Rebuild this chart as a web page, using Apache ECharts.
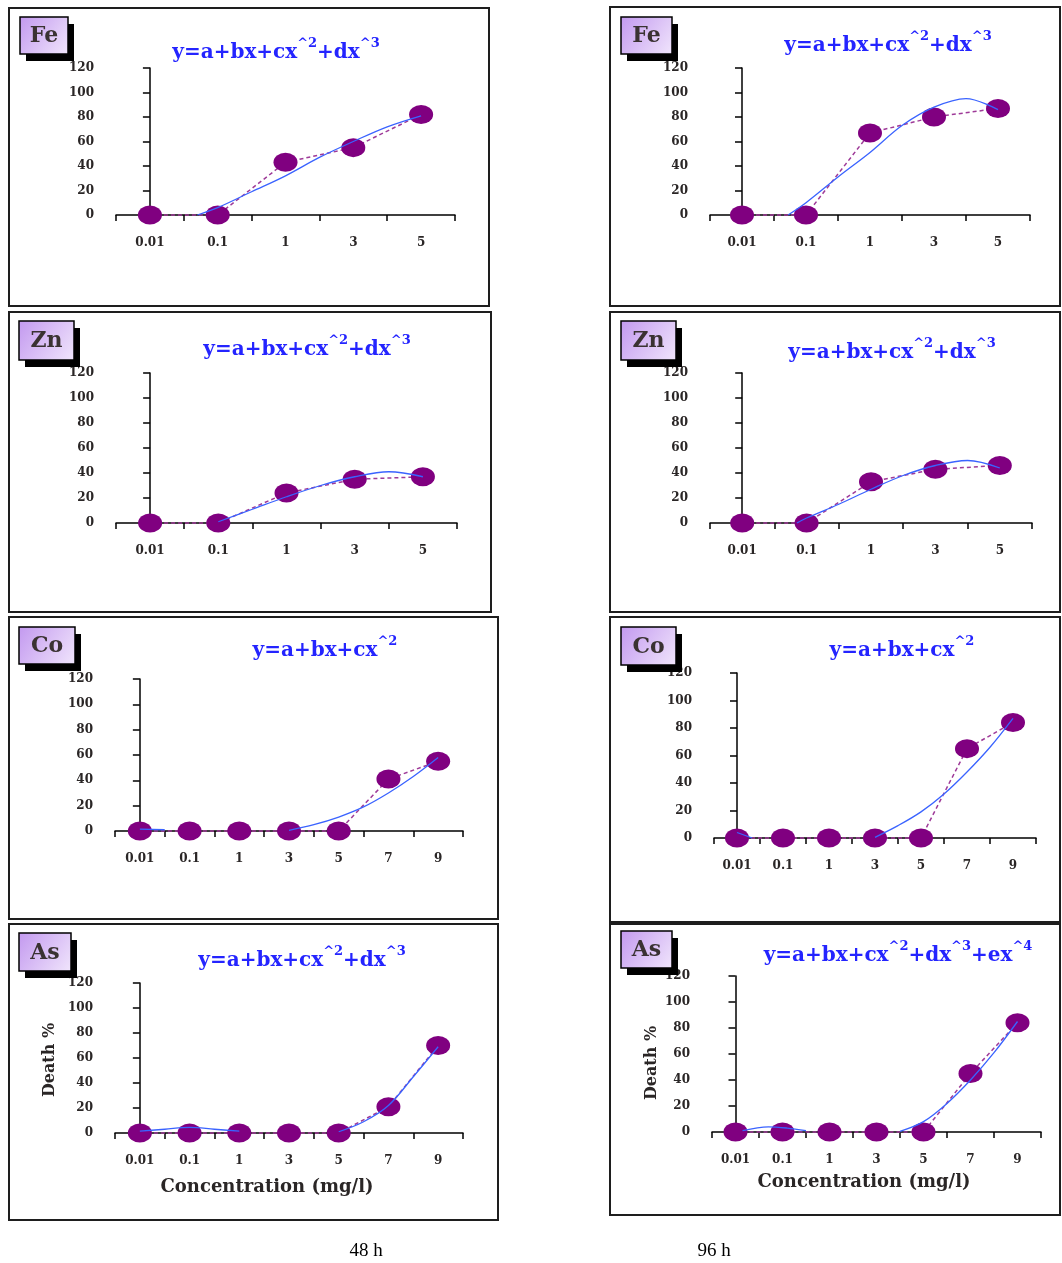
<!DOCTYPE html>
<html><head><meta charset="utf-8">
<script src="https://cdn.jsdelivr.net/npm/echarts@6/dist/echarts.min.js"></script>
<style>html,body{margin:0;padding:0;background:#fff}#c{width:1062px;height:1263px}</style>
</head><body><div id="c"></div>
<script>
// ---- categories / tick labels ----
const cats5 = ['0.01', '0.1', '1', '3', '5'];
const cats7 = ['0.01', '0.1', '1', '3', '5', '7', '9'];
const yMin = 0, yMax = 120, yStep = 20;

// ---- observed death % ----
const fe48 = [0, 0, 43, 55, 82];
const fe96 = [0, 0, 67, 80, 87];
const zn48 = [0, 0, 24, 35, 37];
const zn96 = [0, 0, 33, 43, 46];
const co48 = [0, 0, 0, 0, 0, 41, 55];
const co96 = [0, 0, 0, 0, 0, 65, 84];
const as48 = [0, 0, 0, 0, 0, 21, 70];
const as96 = [0, 0, 0, 0, 0, 45, 84];

// ---- fitted trend curves: [category position, value] ----
const fe48Fit = [[0.7, 0], [1, 6], [1.5, 19], [2, 32], [2.5, 47], [3, 60], [3.5, 72], [4, 81]];
const fe96Fit = [[0.72, 0], [1, 10], [1.5, 31], [2, 51], [2.5, 73], [3, 88], [3.5, 95], [4, 86]];
const zn48Fit = [[1, 1], [1.5, 11], [2, 21], [2.5, 30], [3, 37], [3.5, 41], [4, 37]];
const zn96Fit = [[0.85, 0], [1, 4], [1.5, 15], [2, 27], [2.5, 38], [3, 46], [3.5, 50], [4, 44]];
const co48FitA = [[0, 1.5], [0.5, 1]];
const co48FitB = [[3, 0.5], [3.5, 5], [4, 11], [4.5, 19], [5, 30], [5.5, 43], [6, 58]];
const co96FitA = [[0, 4], [0.33, 0]];
const co96FitB = [[3, 0.5], [3.5, 9], [4, 19], [4.5, 32], [5, 48], [5.5, 66], [6, 87]];
const as48FitA = [[0, 1.5], [0.5, 3], [1, 4.5], [1.5, 3], [2, 1.5]];
const as48FitB = [[4, 1], [4.5, 9], [5, 22], [5.5, 45], [6, 69]];
const as96FitA = [[0.15, 1], [0.7, 4], [1.1, 3], [1.5, 1]];
const as96FitB = [[3.5, 0.5], [4, 8], [4.5, 22], [5, 40], [5.5, 61], [6, 85]];

// ---- texts ----
const metals = ['Fe', 'Fe', 'Zn', 'Zn', 'Co', 'Co', 'As', 'As'];
const eq3 = 'y=a+bx+cx^2+dx^3';
const eq2 = 'y=a+bx+cx^2';
const eq4 = 'y=a+bx+cx^2+dx^3+ex^4';
const yName = 'Death %';
const xName = 'Concentration (mg/l)';
const captions = ['48 h', '96 h'];

// ---- layout (positions & sizes only) ----
const panels = [
  {cats: cats5, data: fe48, fits: [fe48Fit], eq: eq3, grid: [116, 68, 339, 147], frame: [9, 8, 480, 298], box: [20, 17, 48, 37], eqPos: [276, 50]},
  {cats: cats5, data: fe96, fits: [fe96Fit], eq: eq3, grid: [710, 68, 320, 147], frame: [610, 7, 450, 299], box: [621, 17, 51, 37], eqPos: [888, 43]},
  {cats: cats5, data: zn48, fits: [zn48Fit], eq: eq3, grid: [116, 373, 341, 150], frame: [9, 312, 482, 300], box: [19, 321, 55, 39], eqPos: [307, 347]},
  {cats: cats5, data: zn96, fits: [zn96Fit], eq: eq3, grid: [710, 373, 322, 150], frame: [610, 312, 450, 300], box: [621, 321, 55, 39], eqPos: [892, 350]},
  {cats: cats7, data: co48, fits: [co48FitA, co48FitB], eq: eq2, grid: [115, 679, 348, 152], frame: [9, 617, 489, 302], box: [19, 627, 56, 37], eqPos: [325, 648]},
  {cats: cats7, data: co96, fits: [co96FitA, co96FitB], eq: eq2, grid: [714, 673, 322, 165], frame: [610, 617, 450, 305], box: [621, 627, 55, 38], eqPos: [902, 648]},
  {cats: cats7, data: as48, fits: [as48FitA, as48FitB], eq: eq3, grid: [115, 983, 348, 150], frame: [9, 924, 489, 296], box: [19, 933, 52, 38], eqPos: [302, 958]},
  {cats: cats7, data: as96, fits: [as96FitA, as96FitB], eq: eq4, grid: [712, 976, 329, 156], frame: [610, 924, 450, 291], box: [621, 931, 51, 37], eqPos: [898, 953]}
];
const yNamePos = [[50, 1060], [652, 1063]];
const xNamePos = [[267, 1187], [864, 1182]];
const captionPos = [[366, 1251], [714, 1251]];

const labelFont = {color: '#2a2626', fontFamily: 'DejaVu Serif', fontWeight: 'bold', fontSize: 12};
const axisLineStyle = {color: '#000', width: 1.5};

function richEq(s) {
  const parts = s.split(/(\^\d)/).filter(t => t.length);
  return parts.map(t => /^\^\d$/.test(t) ? '{s|' + t + '}' : '{m|' + t + '}').join('');
}

const grid = [], xAxis = [], yAxis = [], series = [], graphic = [];
panels.forEach((p, i) => {
  grid.push({left: p.grid[0], top: p.grid[1], width: p.grid[2], height: p.grid[3], containLabel: false});
  xAxis.push({
    type: 'category', gridIndex: i, data: p.cats, boundaryGap: true,
    axisLine: {lineStyle: axisLineStyle},
    axisTick: {show: true, interval: 0, alignWithLabel: false, length: 6, lineStyle: axisLineStyle},
    axisLabel: Object.assign({interval: 0, margin: 22}, labelFont),
    splitLine: {show: false}
  });
  xAxis.push({type: 'value', gridIndex: i, min: -0.5, max: p.cats.length - 0.5, show: false});
  yAxis.push({
    type: 'value', gridIndex: i, min: yMin, max: yMax, interval: yStep,
    axisLine: {show: true, lineStyle: axisLineStyle},
    axisTick: {show: true, length: 7, lineStyle: axisLineStyle},
    axisLabel: Object.assign({margin: 22}, labelFont),
    splitLine: {show: false}
  });
  series.push({
    type: 'line', xAxisIndex: 2 * i, yAxisIndex: i, data: p.data,
    symbol: 'circle', symbolSize: [24, 19], showAllSymbol: true,
    itemStyle: {color: '#800080'},
    lineStyle: {color: '#9e3a98', width: 1.5, type: [4, 3]},
    clip: false, z: 3, silent: true
  });
  p.fits.forEach(seg => {
    series.push({
      type: 'line', xAxisIndex: 2 * i + 1, yAxisIndex: i, data: seg,
      smooth: 0.35, symbol: 'none', showSymbol: false,
      lineStyle: {color: '#3a63ff', width: 1.3},
      z: 4, silent: true
    });
  });
  // frame
  graphic.push({type: 'rect', shape: {x: p.frame[0], y: p.frame[1], width: p.frame[2], height: p.frame[3]},
    style: {fill: 'none', stroke: '#1e1e1e', lineWidth: 2}, z: 1, silent: true});
  // label box shadow + box + text
  const b = p.box;
  graphic.push({type: 'rect', shape: {x: b[0] + 6, y: b[1] + 7, width: b[2], height: b[3]},
    style: {fill: '#000'}, z: 20, silent: true});
  graphic.push({type: 'rect', shape: {x: b[0], y: b[1], width: b[2], height: b[3]},
    style: {fill: new echarts.graphic.LinearGradient(0, 0, 1, 1, [{offset: 0, color: '#c298ef'}, {offset: 1, color: '#f1e6fc'}]),
      stroke: '#000', lineWidth: 1.5}, z: 21, silent: true});
  graphic.push({type: 'text', x: b[0] + b[2] / 2, y: b[1] + b[3] / 2 + 1,
    style: {text: metals[i], fill: '#3a3232', font: 'bold 22px "DejaVu Serif"', align: 'center', verticalAlign: 'middle'},
    z: 22, silent: true});
  // equation
  graphic.push({type: 'text', x: p.eqPos[0], y: p.eqPos[1],
    style: {text: richEq(p.eq), align: 'center', verticalAlign: 'middle',
      rich: {
        m: {fill: '#2424ff', fontFamily: 'DejaVu Serif', fontWeight: 'bold', fontSize: 20, verticalAlign: 'bottom', lineHeight: 25},
        s: {fill: '#2424ff', fontFamily: 'DejaVu Serif', fontWeight: 'bold', fontSize: 13, verticalAlign: 'top', lineHeight: 15}
      }}, z: 10, silent: true});
});
// axis names and captions
yNamePos.forEach(pt => graphic.push({type: 'text', x: pt[0], y: pt[1], rotation: Math.PI / 2,
  style: {text: yName, fill: '#2a2626', font: 'bold 16px "DejaVu Serif"', align: 'center', verticalAlign: 'middle'}, z: 10, silent: true}));
xNamePos.forEach(pt => graphic.push({type: 'text', x: pt[0], y: pt[1],
  style: {text: xName, fill: '#2a2626', font: 'bold 18px "DejaVu Serif"', align: 'center', verticalAlign: 'middle'}, z: 10, silent: true}));
captionPos.forEach((pt, k) => graphic.push({type: 'text', x: pt[0], y: pt[1],
  style: {text: captions[k], fill: '#000', font: '19px "Liberation Serif"', align: 'center', verticalAlign: 'middle'}, z: 10, silent: true}));

const chart = echarts.init(document.getElementById('c'), null, {renderer: 'canvas'});
chart.setOption({
  backgroundColor: '#fff',
  animation: false,
  grid, xAxis, yAxis, series, graphic
});
</script>
</body></html>
